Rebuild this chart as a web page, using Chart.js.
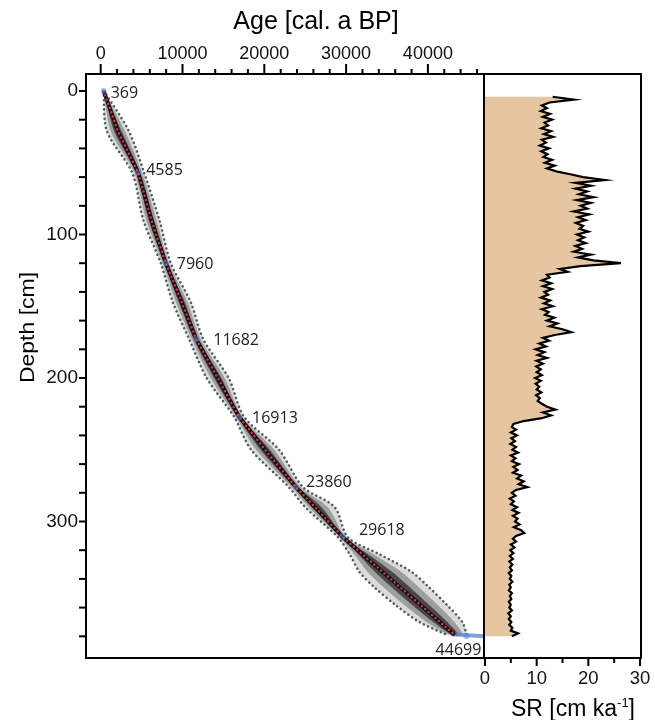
<!DOCTYPE html>
<html><head><meta charset="utf-8">
<script src="https://cdn.jsdelivr.net/npm/chart.js@4.4.1/dist/chart.umd.min.js"></script>
<style>
html,body{margin:0;padding:0;background:#fff;}
#wrap{position:relative;width:655px;height:720px;overflow:hidden;}
canvas{position:absolute;left:0;top:0;}
</style></head><body>
<div id="wrap"><canvas id="c1" width="655" height="720"></canvas><canvas id="c2" width="655" height="720"></canvas></div>
<script>
// ---------- DATA ----------
// dated control points (depth in cm, calibrated age in cal. a BP)
const nodeDepths = [0, 57, 120, 173, 227, 276, 311, 380];
const nodeAges   = [369, 4585, 7960, 11682, 16913, 23860, 29618, 44699];

// age-depth model: depth, median age, lower and upper age bound
const modelDepths = [0, 28, 57, 90, 120, 147, 173, 200, 227, 250, 276, 290, 311, 323, 335, 345, 358, 370, 379];
const modelMedian = [369, 2100, 4585, 6200, 7960, 9900, 11682, 14300, 16913, 20100, 23860, 26200, 29618, 32030, 34440, 36440, 39050, 41460, 43270];
const modelMin    = [344, 760, 3855, 5220, 7350, 8800, 10822, 12960, 16303, 18390, 23000, 25000, 29008, 30450, 31610, 33300, 36000, 38950, 42300];
const modelMax    = [394, 3440, 5315, 7180, 8570, 11000, 12542, 15640, 17523, 21810, 24720, 28600, 30228, 34140, 37980, 39980, 42300, 44200, 44750];

// calibrated range of the basal date
const basalRangeAges   = [42800, 46900];
const basalRangeDepths = [378.5, 380];

// sedimentation rate (cm/ka), sampled every 2 cm from 4 cm to 380 cm
const srStartDepth = 4;
const srStepDepth = 2;
const srValues = [
  13.1, 17.2, 12.5, 11.0, 12.0, 10.8, 12.6, 11.2, 13.0, 11.5,
  12.2, 10.9, 12.8, 11.4, 13.2, 11.0, 11.8, 10.6, 12.4, 10.9,
  12.1, 11.3, 13.0, 11.6, 13.5, 12.0, 13.8, 16.5, 19.0, 23.2,
  17.5, 20.5, 17.5, 19.8, 18.2, 21.0, 17.8, 20.5, 18.5, 19.8,
  17.2, 20.2, 18.0, 19.5, 17.6, 19.0, 18.3, 20.0, 17.8, 19.2,
  18.0, 19.5, 17.5, 18.8, 17.2, 20.5, 18.0, 21.0, 26.3, 18.5,
  14.5, 16.0, 12.0,
  12.5, 11.0, 12.8, 11.2, 13.0, 11.5, 12.2, 10.8, 12.6, 11.4,
  13.1, 11.0, 12.3, 11.6, 13.4, 12.0, 14.0, 12.5, 15.0, 16.7,
  13.5, 11.2, 12.4, 10.5, 11.8, 9.8, 11.5, 10.2, 12.0, 10.0,
  11.2, 9.9, 10.8, 10.0, 11.0, 9.7,
  10.8, 9.8, 10.5, 10.0, 10.9, 9.9, 10.6, 10.2, 11.0, 12.0,
  13.6, 11.2, 12.8, 11.0, 7.5, 5.5,
  5.2, 6.0, 5.0, 6.2, 5.1, 5.8, 4.9, 6.0, 5.3, 6.4,
  5.0, 5.9, 5.2, 6.6, 5.5, 6.3, 5.4, 7.0, 6.2, 7.5,
  6.5, 8.2, 6.0, 5.2, 5.9, 4.8, 5.6, 5.0, 6.2, 5.3,
  6.5, 5.4, 6.3, 5.8, 6.7, 5.6, 7.0, 7.6, 6.0, 5.4,
  6.0, 5.0, 5.7, 4.9, 5.5, 4.8, 5.4, 4.7, 5.3, 4.8,
  5.2, 4.6, 5.1, 4.8, 5.3, 4.7, 5.0, 4.6, 5.2, 4.8,
  5.1, 4.6, 5.0, 4.7, 5.2, 4.5, 5.0, 4.6, 5.1, 4.7,
  5.3, 5.0, 6.4, 5.2
];
const srDepths = srValues.map((_, i) => srStartDepth + srStepDepth * i);

// tick labels
const ageTicks = [0, 10000, 20000, 30000, 40000];
const depthTicks = [0, 100, 200, 300];
const srTicks = [0, 10, 20, 30];

// ---------- STYLE / LAYOUT ----------
const FONT = '"Liberation Sans", Arial, sans-serif';
const labelOffsets = [[7, 2.5, 'left'], [8, -2, 'left'], [11, 1, 'left'], [17, 1, 'left'], [13, 2, 'left'], [10, -5, 'left'], [16, -7, 'left'], [15, 14, 'right']];

const pts = (xs, ys) => xs.map((x, i) => ({x, y: ys[i]}));
function band(f) {
  const left = modelDepths.map((d, i) => ({x: modelMedian[i] - f * (modelMedian[i] - modelMin[i]), y: d}));
  const right = modelDepths.map((d, i) => ({x: modelMedian[i] + f * (modelMax[i] - modelMedian[i]), y: d})).reverse();
  return left.concat(right);
}
function line(ctx, x1, y1, x2, y2) { ctx.beginPath(); ctx.moveTo(x1, y1); ctx.lineTo(x2, y2); ctx.stroke(); }

const framePlugin1 = {
  id: 'frame1',
  afterDraw(chart) {
    const {ctx, chartArea: a, scales: {x, y}} = chart;
    ctx.save();
    ctx.strokeStyle = '#000'; ctx.lineWidth = 2; ctx.lineCap = 'butt';
    ctx.strokeRect(a.left, a.top, a.right - a.left, a.bottom - a.top);
    for (let v = 0; v <= 46000; v += 2000) {
      const px = x.getPixelForValue(v);
      line(ctx, px, a.top, px, a.top - (v % 10000 === 0 ? 10 : 5));
    }
    for (let v = 0; v <= 380; v += 20) {
      const py = y.getPixelForValue(v);
      line(ctx, a.left - 7, py, a.left, py);
    }
    // age labels
    ctx.fillStyle = '#222';
    ctx.font = '16px "Open Sans", sans-serif';
    ctx.textBaseline = 'middle';
    nodeAges.forEach((age, i) => {
      const [dx, dy, al] = labelOffsets[i];
      ctx.textAlign = al;
      ctx.fillText(String(age), x.getPixelForValue(age) + dx, y.getPixelForValue(nodeDepths[i]) + dy);
    });
    // titles
    ctx.fillStyle = '#000';
    ctx.font = '25px ' + FONT;
    ctx.textAlign = 'center'; ctx.textBaseline = 'middle';
    ctx.fillText('Age [cal. a BP]', 316, 22);
    ctx.save();
    ctx.translate(33.5, 327.5);
    ctx.rotate(-Math.PI / 2);
    ctx.scale(1.15, 1);
    ctx.font = '20px ' + FONT;
    ctx.textAlign = 'center'; ctx.textBaseline = 'alphabetic';
    ctx.fillText('Depth [cm]', 0, 0);
    ctx.restore();
    ctx.restore();
  }
};

const framePlugin2 = {
  id: 'frame2',
  afterDraw(chart) {
    const {ctx, chartArea: a, scales: {x}} = chart;
    ctx.save();
    ctx.strokeStyle = '#000'; ctx.lineWidth = 2;
    ctx.strokeRect(a.left, a.top, a.right - a.left, a.bottom - a.top);
    for (let v = 0; v <= 30; v += 5) {
      const px = x.getPixelForValue(v);
      line(ctx, px, a.bottom, px, a.bottom + (v % 10 === 0 ? 8 : 5));
    }
    // title with superscript
    ctx.fillStyle = '#000';
    ctx.textBaseline = 'alphabetic'; ctx.textAlign = 'left';
    const big = '23px ' + FONT, small = '13px ' + FONT;
    ctx.font = big; const w1 = ctx.measureText('SR [cm ka').width; const w3 = ctx.measureText(']').width;
    ctx.font = small; const w2 = ctx.measureText('-1').width;
    let sx = 573 - (w1 + w2 + w3) / 2; const by = 716;
    ctx.font = big; ctx.fillText('SR [cm ka', sx, by); sx += w1;
    ctx.font = small; ctx.fillText('-1', sx, by - 9); sx += w2;
    ctx.font = big; ctx.fillText(']', sx, by);
    ctx.restore();
  }
};

const commonTick = (size) => ({font: {family: FONT, size: size, lineHeight: 1}, color: '#111', autoSkip: false, maxRotation: 0, minRotation: 0});
const bandStyle = (c, o) => ({showLine: true, fill: 'shape', backgroundColor: c, borderColor: 'transparent', borderWidth: 0, pointRadius: 0, tension: 0.3, order: o});
const dotStyle = (o) => ({showLine: true, borderColor: '#4f5c5c', borderWidth: 2.6, borderDash: [0.01, 4.6], borderCapStyle: 'round', pointRadius: 0, tension: 0.3, order: o});

new Chart(document.getElementById('c1'), {
  type: 'scatter',
  data: {
    datasets: [
      Object.assign({data: band(1.0)}, bandStyle('rgba(0,0,0,0.14)', 10)),
      Object.assign({data: band(0.65)}, bandStyle('rgba(0,0,0,0.28)', 9)),
      Object.assign({data: band(0.33)}, bandStyle('rgba(0,0,0,0.55)', 8)),
      Object.assign({data: pts(modelMin, modelDepths)}, dotStyle(7)),
      Object.assign({data: pts(modelMax, modelDepths)}, dotStyle(6)),
      {data: pts(basalRangeAges, basalRangeDepths), showLine: true, borderColor: 'rgba(90,130,210,0.75)', borderWidth: 4, pointRadius: 0, order: 5},
      {data: pts(modelMedian, modelDepths), showLine: true, borderColor: '#111', borderWidth: 3.8, pointRadius: 0, order: 4},
      {data: pts(modelMedian, modelDepths), showLine: true, borderColor: '#e8334f', borderWidth: 2.4, borderDash: [0.01, 4.5], borderCapStyle: 'round', pointRadius: 0, order: 3},
      {data: pts(nodeAges, nodeDepths), showLine: false, pointRadius: 3, backgroundColor: 'rgba(90,130,210,0.5)', borderWidth: 0, order: 2}
    ]
  },
  options: {
    responsive: false, animation: false,
    layout: {padding: {left: 0, right: 171, top: 0, bottom: 62}},
    plugins: {legend: {display: false}, tooltip: {enabled: false}},
    scales: {
      x: {type: 'linear', position: 'top', min: -1797, max: 46858,
        afterBuildTicks: s => { s.ticks = ageTicks.map(v => ({value: v})); },
        afterFit: s => { s.height = 74; },
        grid: {display: false, drawTicks: true, tickLength: 10}, border: {display: false},
        ticks: Object.assign(commonTick(18), {padding: 0.5, callback: v => String(v)})},
      y: {type: 'linear', position: 'left', reverse: true, min: -11.85, max: 395.12,
        afterBuildTicks: s => { s.ticks = depthTicks.map(v => ({value: v})); },
        afterFit: s => { s.width = 86; },
        grid: {display: false, drawTicks: true, tickLength: 7}, border: {display: false},
        ticks: Object.assign(commonTick(19), {padding: 1, callback: v => String(v)})}
    }
  },
  plugins: [framePlugin1]
});

const srPoints = pts(srValues, srDepths);
new Chart(document.getElementById('c2'), {
  type: 'scatter',
  data: {
    datasets: [
      {data: [{x: 0, y: srDepths[0]}].concat(srPoints, [{x: 0, y: srDepths[srDepths.length - 1]}]), showLine: true, fill: 'shape', backgroundColor: '#e6c5a1', borderColor: 'transparent', borderWidth: 0, pointRadius: 0, order: 2},
      {data: srPoints, showLine: true, borderColor: '#000', borderWidth: 2.2, pointRadius: 0, order: 1}
    ]
  },
  options: {
    responsive: false, animation: false,
    layout: {padding: {left: 484, right: 14, top: 74, bottom: 0}},
    plugins: {legend: {display: false}, tooltip: {enabled: false}},
    scales: {
      x: {type: 'linear', position: 'bottom', min: -0.194, max: 30.194,
        afterBuildTicks: s => { s.ticks = srTicks.map(v => ({value: v})); },
        afterFit: s => { s.height = 62; },
        grid: {display: false, drawTicks: true, tickLength: 8}, border: {display: false},
        ticks: Object.assign(commonTick(18.5), {padding: 3.5, callback: v => String(v)})},
      y: {type: 'linear', display: false, reverse: true, min: -11.85, max: 395.12}
    }
  },
  plugins: [framePlugin2]
});
</script>
</body></html>
